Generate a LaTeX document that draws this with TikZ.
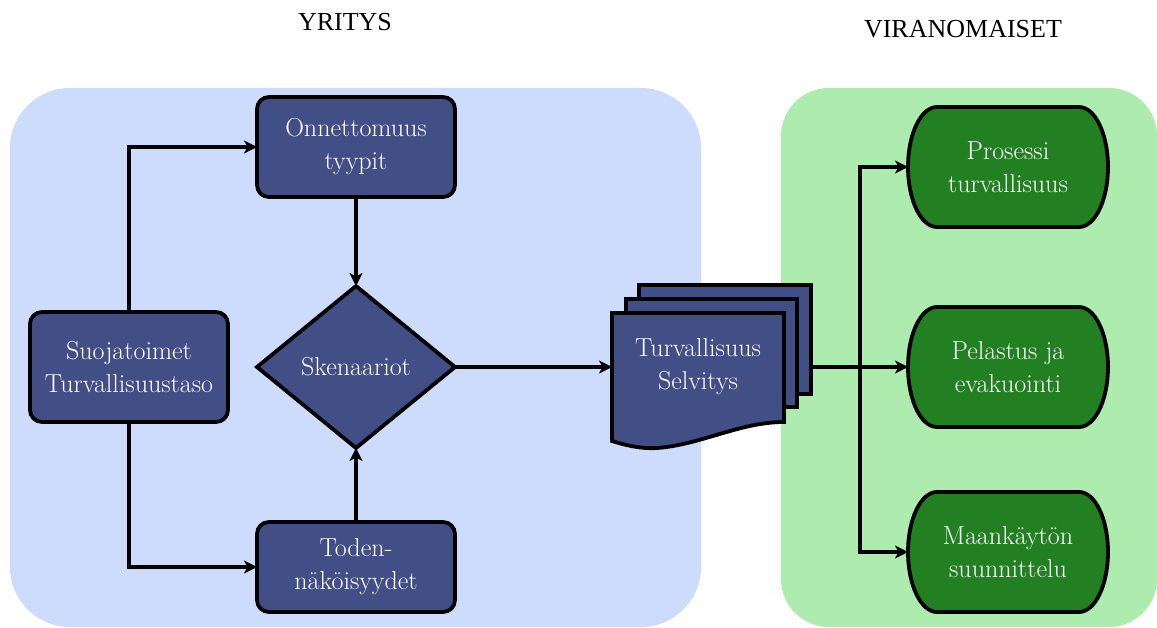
\documentclass[tikz,border=0pt]{standalone}
\usepackage{fontspec}
\newfontfamily\titlefont{Liberation Serif}
\usetikzlibrary{arrows.meta,shapes.geometric}
\definecolor{boxblue}{HTML}{424E86}
\definecolor{panelblue}{HTML}{CDDBFC}
\definecolor{panelgreen}{HTML}{ADEBAE}
\definecolor{boxgreen}{HTML}{228022}
\pgfdeclarelayer{bg}
\pgfdeclarelayer{mid}
\pgfsetlayers{bg,mid,main}
\tikzset{
  boxtext/.style={text=white, font=\fontsize{26}{33}\selectfont, align=center, inner sep=0pt, outer sep=0pt},
  bluebox/.style={boxtext, draw=black, fill=boxblue, line width=3.8pt, rounded corners=12pt, minimum width=198pt},
  decision/.style={boxtext, diamond, draw=black, fill=boxblue, line width=3.8pt, minimum width=198pt, minimum height=162pt},
  termnode/.style={boxtext, minimum width=200pt, minimum height=120pt},
  termdraw/.style={draw=black, fill=boxgreen, line width=3.8pt},
  pagedraw/.style={draw=black, fill=boxblue, line width=3.8pt, line join=miter},
  conn/.style={line width=4pt, -{Stealth[length=13pt,width=13pt,inset=3.5pt]}},
  paneltitle/.style={font=\titlefont\fontsize{26}{30}\selectfont, anchor=base, inner sep=0pt}
}
\newcommand\termshape[1]{%
  \draw[termdraw] ([xshift=29pt]#1.north west) -- ([xshift=-29pt]#1.north east)
    arc[start angle=90,end angle=-90,x radius=29pt,y radius=60pt]
    -- ([xshift=29pt]#1.south west)
    arc[start angle=270,end angle=90,x radius=29pt,y radius=60pt] -- cycle;}
\begin{document}
\begin{tikzpicture}[x=1pt,y=1pt]
\useasboundingbox (0,0) rectangle (1157,627);
% panels
\begin{pgfonlayer}{bg}
  \fill[panelblue, rounded corners=60pt] (10,0) rectangle (701,539);
  \fill[panelgreen, rounded corners=48pt] (781,0) rectangle (1157,539);
\end{pgfonlayer}
% titles
\node[paneltitle] (ytitle) at (345,596) {YRITYS};
\node[paneltitle] (vtitle) at (963,589) {VIRANOMAISET};
% company nodes
\node[bluebox, minimum height=100pt] (onn) at (356,480) {Onnettomuus\\tyypit};
\node[bluebox, minimum height=110pt] (suo) at (129,260) {Suojatoimet\\Turvallisuustaso};
\node[decision] (sken) at (356,260) {Skenaariot};
\node[bluebox, minimum height=90pt] (tod) at (356,60) {Toden-\\näköisyydet};
% document
\node[boxtext, minimum width=172pt] (doc) at (698,260) {Turvallisuus\\Selvitys};
\begin{pgfonlayer}{mid}
  \begin{scope}[shift={(doc.center)}]
    \draw[pagedraw] (-59,-27) rectangle (113,82);
    \draw[pagedraw] (-72,-40) rectangle (99,68);
    \draw[pagedraw] (-86,54) -- (86,54) -- (86,-55)
      .. controls (42,-55) and (2,-78) .. (-41,-81)
      .. controls (-58,-82) and (-73,-78) .. (-86,-74) -- cycle;
  \end{scope}
\end{pgfonlayer}
\coordinate (docout) at ([xshift=113pt]doc.center);
\coordinate (branch) at (860,260);
% authority nodes
\node[termnode] (pros) at (1008,460) {Prosessi\\turvallisuus};
\node[termnode] (pel) at (1008,260) {Pelastus ja\\evakuointi};
\node[termnode] (maan) at (1008,75) {Maankäytön\\suunnittelu};
\begin{pgfonlayer}{mid}
  \termshape{pros}
  \termshape{pel}
  \termshape{maan}
\end{pgfonlayer}
% connectors
\draw[conn] (suo.north) |- (onn.west);
\draw[conn] (suo.south) |- (tod.west);
\draw[conn] (onn.south) -- (sken.north);
\draw[conn] (tod.north) -- (sken.south);
\draw[conn] (sken.east) -- (doc.west);
\draw[conn] (docout) -- (pel.west);
\draw[conn] (branch) |- (pros.west);
\draw[conn] (branch) |- (maan.west);
\end{tikzpicture}
\end{document}
